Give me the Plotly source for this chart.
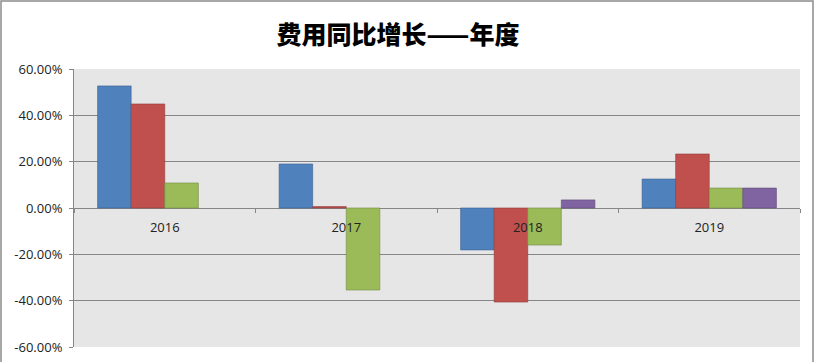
import plotly.graph_objects as go

years = ["2016", "2017", "2018", "2019"]
series_a = [0.527, 0.190, -0.181, 0.125]
series_b = [0.449, 0.006, -0.406, 0.233]
series_c = [0.108, -0.354, -0.160, 0.086]
series_d = [None, None, 0.035, 0.086]
colors = ["#4f81bd", "#c0504d", "#9bbb59", "#8064a2"]
edges = ["#3a6291", "#8e3b39", "#728a42", "#5e4a78"]
ytick_vals = [0.6, 0.4, 0.2, 0.0, -0.2, -0.4, -0.6]
ytick_text = ["60.00%", "40.00%", "20.00%", "0.00%", "-20.00%", "-40.00%", "-60.00%"]

W, H = 815, 362
L, R, T, B = 74, 15, 69, 15

fig = go.Figure()
for vals, c, e in zip([series_a, series_b, series_c, series_d], colors, edges):
    fig.add_trace(go.Bar(x=years, y=vals, marker=dict(color=c, line=dict(color=e, width=0.6)),
                         hoverinfo="skip"))

pw = W - L - R
ph = H - T - B
fig.update_layout(
    width=W, height=H,
    margin=dict(l=L, r=R, t=T, b=B),
    paper_bgcolor="white",
    plot_bgcolor="#e6e6e6",
    barmode="group",
    bargap=0.26,
    bargroupgap=0,
    showlegend=False,
    title=dict(text="费用同比增长——年度", x=398 / W, xanchor="center", y=1 - 35 / H, yanchor="middle",
               font=dict(family="Noto Sans CJK SC", size=25, color="#000000", weight=900)),
    font=dict(family="Open Sans, Noto Sans, sans-serif", size=13, color="#222222"),
    xaxis=dict(type="category", anchor="free", position=0.5, showgrid=False,
               tickson="boundaries", ticks="outside", ticklen=4, tickcolor="#868686",
               ticklabelstandoff=10,
               showline=False, zeroline=False, tickfont=dict(size=13, color="#222222")),
    yaxis=dict(range=[-0.6, 0.6], tickvals=ytick_vals, ticktext=ytick_text,
               showgrid=True, gridcolor="#868686", gridwidth=1,
               zeroline=True, zerolinecolor="#868686", zerolinewidth=1,
               showline=True, linecolor="#868686", linewidth=1,
               ticks="outside", ticklen=4, tickcolor="#868686", automargin=False,
               ticklabelstandoff=4,
               tickfont=dict(size=13, color="#222222")),
    shapes=[dict(type="rect", xref="paper", yref="paper",
                 x0=(1 - L) / pw, x1=(W - 2 - L) / pw,
                 y0=-(H + 5 - T - ph) / ph, y1=1 + (T - 1) / ph,
                 line=dict(color="#8c8c8c", width=1.5), fillcolor="rgba(0,0,0,0)", layer="below")],
)
fig.write_html("out.html", config={"displayModeBar": False},
               post_script="document.body.style.margin='0';document.body.style.padding='0';")
